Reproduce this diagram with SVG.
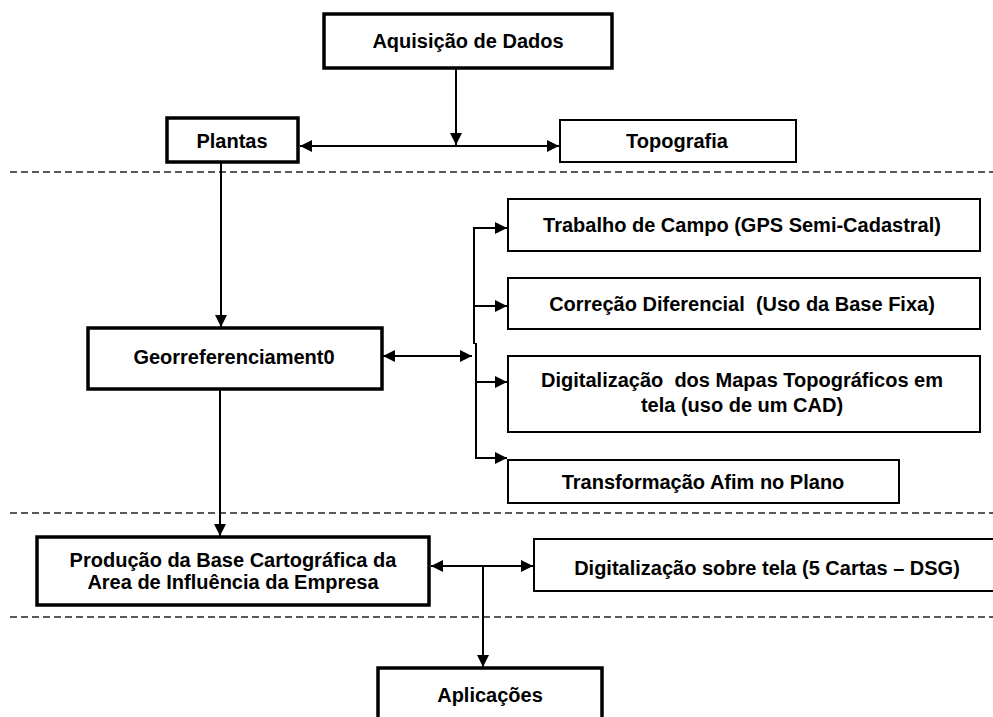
<svg xmlns="http://www.w3.org/2000/svg" width="993" height="717" viewBox="0 0 993 717">
<style>
.thick{fill:#fff;stroke:#000;stroke-width:3.5}
.thin{fill:#fff;stroke:#000;stroke-width:2}
.t{font-family:"Liberation Sans",Arial,sans-serif;font-weight:bold;font-size:20px;fill:#000;text-anchor:middle}
.c{stroke:#000;stroke-width:2;fill:none}
.d{stroke:#222;stroke-width:1.6;stroke-dasharray:7 4;fill:none}
</style>
<defs>
<marker id="ah" viewBox="0 0 10 10" refX="10" refY="5" markerWidth="12" markerHeight="12" markerUnits="userSpaceOnUse" orient="auto-start-reverse">
<path d="M0,0 L10,5 L0,10 z" fill="#000"/>
</marker>
</defs>
<rect width="993" height="717" fill="#fff"/>
<g id="separators">
<line class="d" x1="10" y1="172" x2="993" y2="172"/>
<line class="d" x1="10" y1="513" x2="993" y2="513"/>
<line class="d" x1="10" y1="617" x2="993" y2="617"/>
</g>
<g id="connectors">
<line class="c" x1="456" y1="68" x2="456" y2="145" marker-end="url(#ah)"/>
<line class="c" x1="300" y1="146" x2="559" y2="146" marker-start="url(#ah)" marker-end="url(#ah)"/>
<line class="c" x1="221" y1="163" x2="221" y2="327" marker-end="url(#ah)"/>
<line class="c" x1="383" y1="356" x2="472" y2="356" marker-start="url(#ah)" marker-end="url(#ah)"/>
<line class="c" x1="474" y1="227" x2="474" y2="344"/>
<line class="c" x1="476" y1="343" x2="476" y2="459"/>
<line class="c" x1="473" y1="228" x2="507" y2="228" marker-end="url(#ah)"/>
<line class="c" x1="473" y1="306" x2="507" y2="306" marker-end="url(#ah)"/>
<line class="c" x1="475" y1="382" x2="507" y2="382" marker-end="url(#ah)"/>
<line class="c" x1="475" y1="458" x2="507" y2="458" marker-end="url(#ah)"/>
<line class="c" x1="220" y1="389" x2="220" y2="536" marker-end="url(#ah)"/>
<line class="c" x1="431" y1="566" x2="533" y2="566" marker-start="url(#ah)" marker-end="url(#ah)"/>
<line class="c" x1="483" y1="566" x2="483" y2="667" marker-end="url(#ah)"/>
</g>
<g id="aquisicao">
<rect class="thick" x="324" y="14" width="288" height="54"/>
<text class="t" x="468" y="48">Aquisição de Dados</text>
</g>
<g id="plantas">
<rect class="thick" x="167" y="118" width="131" height="44"/>
<text class="t" x="232" y="148">Plantas</text>
</g>
<g id="topografia">
<rect class="thin" x="560" y="120" width="236" height="42"/>
<text class="t" x="677" y="148">Topografia</text>
</g>
<g id="georreferenciamento">
<rect class="thick" x="88" y="328" width="294" height="61"/>
<text class="t" x="234" y="364">Georreferenciament0</text>
</g>
<g id="trabalho">
<rect class="thin" x="508" y="199" width="472" height="52"/>
<text class="t" x="742" y="232">Trabalho de Campo (GPS Semi-Cadastral)</text>
</g>
<g id="correcao">
<rect class="thin" x="508" y="278" width="472" height="51"/>
<text class="t" x="742" y="311" xml:space="preserve">Correção Diferencial  (Uso da Base Fixa)</text>
</g>
<g id="digitalizacao-mapas">
<rect class="thin" x="508" y="356" width="472" height="76"/>
<text class="t" x="742" y="387" xml:space="preserve">Digitalização  dos Mapas Topográficos em</text>
<text class="t" x="742" y="412">tela (uso de um CAD)</text>
</g>
<g id="transformacao">
<rect class="thin" x="508" y="460" width="391" height="43"/>
<text class="t" x="703" y="489">Transformação Afim no Plano</text>
</g>
<g id="producao">
<rect class="thick" x="37" y="537" width="392" height="68"/>
<text class="t" x="233" y="567">Produção da Base Cartográfica da</text>
<text class="t" x="233" y="589">Area de Influência da Empresa</text>
</g>
<g id="digitalizacao-tela">
<rect class="thin" x="534" y="539" width="470" height="52"/>
<text class="t" x="767" y="575">Digitalização sobre tela (5 Cartas – DSG)</text>
</g>
<g id="aplicacoes">
<rect class="thick" x="378" y="668" width="224" height="60"/>
<text class="t" x="490" y="702">Aplicações</text>
</g>
</svg>
